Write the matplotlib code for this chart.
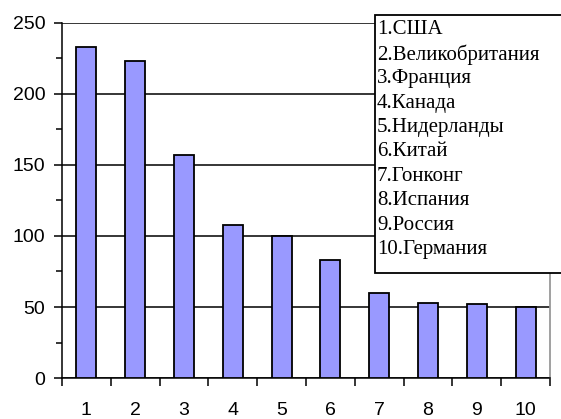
import matplotlib
matplotlib.use("Agg")
import matplotlib.pyplot as plt
from matplotlib.patches import Rectangle
import numpy as np

# data
ranks = list(range(1, 11))
values = [233, 223, 157, 108, 100, 83, 60, 53, 52, 50]
countries = ["США", "Великобритания", "Франция", "Канада", "Нидерланды",
             "Китай", "Гонконг", "Испания", "Россия", "Германия"]

W, H = 561, 419
fig = plt.figure(figsize=(W / 100, H / 100), dpi=100)
ax = fig.add_axes([62 / W, 1 - 378 / H, (550 - 62) / W, (378 - 23) / H])

x = np.arange(len(ranks))
ax.bar(x, values, width=0.41, color="#9999ff", edgecolor="black",
       linewidth=1.3, zorder=3)

ax.set_xlim(-0.5, len(ranks) - 0.5)
ax.set_ylim(0, 250)

# y axis
ax.set_yticks(np.arange(0, 251, 50))
ax.set_yticks(np.arange(25, 251, 50), minor=True)
ax.yaxis.grid(True, which="major", color="black", linewidth=1.1, zorder=1)
ax.tick_params(axis="y", which="major", direction="out", length=6,
               width=1.1, labelsize=14, pad=6)
ax.tick_params(axis="y", which="minor", direction="out", length=4, width=1.1)

# x axis: ticks between categories, labels at centers
ax.set_xticks(np.arange(-0.5, len(ranks), 1.0))
ax.set_xticklabels([])
ax.set_xticks(x, minor=True)
ax.set_xticklabels([str(r) for r in ranks], minor=True)
ax.tick_params(axis="x", which="major", direction="out", length=6, width=1.1)
ax.tick_params(axis="x", which="minor", length=0, labelsize=14, pad=17)

for lab in ax.get_yticklabels() + ax.get_xticklabels(minor=True):
    lab.set_fontfamily("Liberation Sans")

ax.spines["top"].set_visible(False)
ax.spines["right"].set_color("#999999")
ax.spines["right"].set_linewidth(1.3)
ax.spines["left"].set_linewidth(1.1)
ax.spines["bottom"].set_linewidth(1.1)

# legend box with country names
box = Rectangle((375 / W, 1 - 273 / H), (600 - 375) / W, (273 - 15) / H,
                transform=fig.transFigure, facecolor="white",
                edgecolor="black", linewidth=1.3, zorder=10, clip_on=False)
fig.add_artist(box)
for i, (r, name) in enumerate(zip(ranks, countries)):
    fig.text(377 / W, 1 - (30 + i * 24.4) / H, f"{r}.{name}",
             fontfamily="Liberation Serif", fontsize=15,
             va="center", ha="left", zorder=11)

fig.savefig("out.png", dpi=100)
